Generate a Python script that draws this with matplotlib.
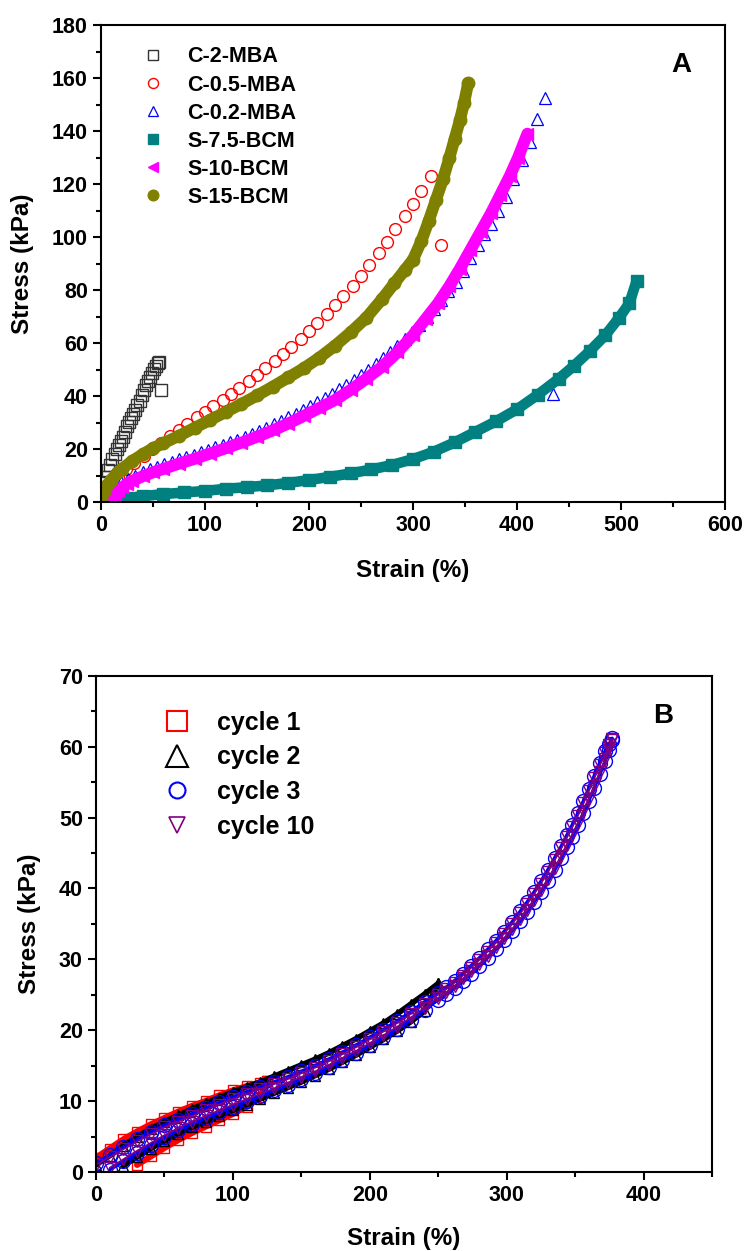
import matplotlib
matplotlib.use("Agg")
import matplotlib.pyplot as plt
from matplotlib.lines import Line2D
from matplotlib.ticker import MultipleLocator
import numpy as np

plt.rcParams["font.family"] = ["Liberation Sans", "DejaVu Sans"]
plt.rcParams["font.weight"] = "bold"
plt.rcParams["axes.linewidth"] = 1.5

nan = np.nan

# ---------------- panel A: strain (%) / stress (kPa) ----------------
c2_mba_x = [3, 5, 7, 9, 11, 13, 15, 17, 19, 21, 23, 25, 27, 29, 31, 33, 35, 37, 39,
            41, 43, 45, 47, 49, 51, 53, 55, 56, 58]
c2_mba_y = [7.0, 9.6, 12.0, 13.8, 16.2, 18.3, 19.9, 21.5, 23.0, 24.4, 26.5, 28.6, 30.3,
            31.8, 33.3, 34.9, 36.6, 38.2, 40.2, 42.4, 44.1, 45.7, 47.2, 48.7, 50.1,
            51.3, 52.4, 53.0, 42.3]

c05_mba_x = [1, 8, 16, 24, 32, 41, 49, 58, 66, 75, 83, 92, 100, 108, 117, 125, 133, 142,
             150, 158, 167, 175, 183, 192, 200, 208, 217, 225, 233, 242, 250, 258, 267,
             275, 283, 292, 300, 308, 317, 327]
c05_mba_y = [1.5, 6.0, 9.5, 12.3, 14.8, 17.3, 20.0, 22.3, 24.8, 27.2, 29.6, 31.9, 34.0,
             36.2, 38.5, 40.7, 43.1, 45.6, 47.9, 50.5, 53.1, 55.8, 58.6, 61.5, 64.5, 67.6,
             70.9, 74.2, 77.7, 81.5, 85.4, 89.5, 93.8, 98.3, 103.0, 107.8, 112.5, 117.5,
             123.0, 97.0]

c02_mba_x = [5, 12, 19, 26, 33, 40, 47, 54, 61, 68, 75, 82, 89, 96, 103, 110, 117, 124,
             131, 138, 145, 152, 159, 166, 173, 180, 187, 194, 201, 208, 215, 222, 229,
             236, 243, 250, 257, 264, 271, 278, 285, 292, 299, 306, 313, 320, 327, 334,
             341, 348, 355, 362, 368, 375, 382, 389, 396, 405, 412, 419, 427, 435]
c02_mba_y = [3.0, 6.0, 7.5, 8.8, 10.0, 11.2, 12.3, 13.3, 14.3, 15.2, 16.1, 17.0, 17.9,
             18.8, 19.7, 20.6, 21.5, 22.5, 23.5, 24.6, 25.7, 26.9, 28.1, 29.3, 30.6, 31.9,
             33.3, 34.7, 36.2, 37.7, 39.3, 40.9, 42.6, 44.3, 46.1, 48.0, 50.0, 52.1, 54.3,
             56.6, 59.0, 61.5, 64.1, 66.9, 69.8, 72.9, 76.1, 79.5, 83.1, 87.0, 92.0, 97.0,
             101.0, 105.0, 110.0, 115.0, 122.0, 129.0, 136.0, 144.5, 152.5, 40.7]

s75_bcm_x = [10, 15, 25, 40, 60, 80, 100, 120, 140, 160, 180, 200, 220, 240, 260, 280,
             300, 320, 340, 360, 380, 400, 420, 440, 455, 470, 485, 498, 508, 515]
s75_bcm_y = [0.0, 0.8, 1.5, 2.2, 3.0, 3.6, 4.2, 5.0, 5.6, 6.3, 7.2, 8.3, 9.5, 10.8, 12.3,
             14.0, 16.2, 19.0, 22.5, 26.5, 30.5, 35.0, 40.5, 46.5, 51.5, 57.0, 63.0, 69.5,
             75.0, 83.5]

s10_bcm_x = [10, 13, 16, 20, 25, 30, 40, 50, 60, 75, 90, 105, 120, 135, 150, 165, 180,
             195, 210, 225, 240, 255, 270, 285, 300, 312, 324, 335, 345, 355, 365, 375,
             384, 393, 401, 410]
s10_bcm_y = [0.0, 2.5, 4.0, 5.5, 6.8, 8.0, 9.7, 11.2, 12.5, 14.5, 16.3, 18.3, 20.3, 22.4,
             24.6, 27.0, 29.6, 32.5, 35.5, 38.5, 42.3, 46.5, 51.0, 56.5, 63.0, 69.0, 75.0,
             81.5, 88.0, 95.0, 102.0, 109.0, 116.0, 123.0, 130.0, 139.0]

s15_bcm_x = [0, 3, 6, 10, 15, 20, 30, 40, 50, 60, 75, 90, 105, 120, 135, 150, 165, 180,
             195, 210, 225, 240, 255, 270, 282, 292, 300, 308, 315, 322, 329, 335, 340,
             345, 349, 353]
s15_bcm_y = [1.0, 4.0, 6.5, 8.5, 10.8, 12.5, 15.5, 18.0, 20.3, 22.2, 25.0, 28.0, 31.0,
             34.0, 37.0, 40.2, 43.5, 47.0, 50.5, 54.5, 59.0, 64.0, 69.5, 76.5, 82.5, 87.5,
             91.5, 98.5, 106.0, 114.0, 122.0, 130.0, 137.0, 144.0, 150.5, 158.0]

# ---------------- panel B: cyclic loading / unloading ----------------
cyc1_x = [0, 10, 20, 30, 40, 50, 60, 70, 80, 90, 100, 110, 120, 125]
cyc1_load = [2.0, 3.3, 4.6, 5.7, 6.7, 7.6, 8.5, 9.3, 10.0, 10.8, 11.5, 12.1, 12.6, 12.9]
cyc1_unload = [nan, nan, nan, 1.0, 2.2, 3.4, 4.5, 5.5, 6.4, 7.3, 8.2, 9.2, 10.6, 12.9]

cyc2_x = [0, 10, 20, 30, 40, 50, 60, 70, 80, 90, 100, 110, 120, 130, 140, 150, 160, 170,
          180, 190, 200, 210, 220, 230, 240, 250]
cyc2_load = [1.0, 2.3, 3.7, 5.0, 6.1, 7.1, 8.0, 8.9, 9.7, 10.5, 11.3, 12.0, 12.7, 13.5,
             14.3, 15.1, 15.9, 16.8, 17.8, 18.8, 19.9, 21.0, 22.3, 23.7, 25.1, 26.6]
cyc2_unload = [nan, nan, 0.9, 2.1, 3.3, 4.4, 5.4, 6.3, 7.1, 7.9, 8.7, 9.5, 10.3, 11.1,
               11.9, 12.7, 13.6, 14.5, 15.5, 16.5, 17.6, 18.7, 19.9, 21.2, 22.7, 26.6]

cyc3_x = [0, 10, 20, 30, 40, 50, 60, 70, 80, 90, 100, 110, 120, 130, 140, 150, 160, 170,
          180, 190, 200, 210, 220, 230, 240, 250, 256, 262, 268, 274, 280, 286, 292, 298,
          304, 310, 315, 320, 325, 330, 335, 340, 344, 348, 352, 356, 360, 364, 368, 372,
          375, 377]
cyc3_load = [1.3, 2.4, 3.5, 4.6, 5.6, 6.6, 7.4, 8.2, 9.0, 9.8, 10.6, 11.3, 12.0, 12.7,
             13.4, 14.2, 15.0, 15.9, 16.9, 17.9, 19.0, 20.1, 21.3, 22.6, 24.0, 25.3, 26.1,
             27.0, 28.0, 29.1, 30.2, 31.4, 32.6, 33.9, 35.3, 36.8, 38.1, 39.5, 41.0, 42.6,
             44.3, 46.0, 47.5, 49.0, 50.6, 52.3, 54.1, 55.9, 57.7, 59.4, 60.4, 61.2]
cyc3_unload = [nan, 0.3, 1.5, 2.7, 3.8, 4.9, 5.9, 6.8, 7.6, 8.4, 9.2, 10.0, 10.7, 11.5,
               12.3, 13.1, 13.9, 14.8, 15.8, 16.8, 17.9, 19.0, 20.2, 21.5, 22.9, 24.3,
               25.1, 26.0, 27.0, 28.0, 29.1, 30.2, 31.4, 32.7, 34.0, 35.4, 36.7, 38.1,
               39.5, 41.0, 42.6, 44.3, 45.8, 47.3, 48.9, 50.6, 52.4, 54.2, 56.1, 58.0,
               59.6, 61.0]
cyc10_load = [1.0, 2.1, 3.2, 4.3, 5.3, 6.3, 7.1, 7.9, 8.7, 9.5, 10.3, 11.0, 11.7, 12.4,
              13.1, 13.9, 14.7, 15.6, 16.6, 17.6, 18.7, 19.8, 21.0, 22.3, 23.7, 25.0,
              25.8, 26.7, 27.7, 28.8, 29.9, 31.1, 32.3, 33.6, 35.0, 36.5, 37.8, 39.2,
              40.7, 42.3, 44.0, 45.7, 47.2, 48.7, 50.3, 52.0, 53.8, 55.6, 57.4, 59.1,
              60.2, 61.1]
cyc10_unload = [nan, 0.6, 1.8, 3.0, 4.1, 5.2, 6.2, 7.1, 7.9, 8.7, 9.5, 10.3, 11.0, 11.8,
                12.6, 13.4, 14.2, 15.1, 16.1, 17.1, 18.2, 19.3, 20.5, 21.8, 23.2, 24.6,
                25.4, 26.3, 27.3, 28.3, 29.4, 30.5, 31.7, 33.0, 34.3, 35.7, 37.0, 38.4,
                39.8, 41.3, 42.9, 44.6, 46.1, 47.6, 49.2, 50.9, 52.7, 54.5, 56.4, 58.3,
                59.8, 61.0]


def style_axes(ax, xmax, xmaj, xmin, ymax, ymaj, ymin):
    ax.set_xlim(0, xmax)
    ax.set_ylim(0, ymax)
    ax.xaxis.set_major_locator(MultipleLocator(xmaj))
    ax.xaxis.set_minor_locator(MultipleLocator(xmin))
    ax.yaxis.set_major_locator(MultipleLocator(ymaj))
    ax.yaxis.set_minor_locator(MultipleLocator(ymin))
    ax.tick_params(which="major", direction="out", length=6, width=1.5,
                   labelsize=15.5, top=False, right=False)
    ax.tick_params(which="minor", direction="out", length=3.5, width=1.5,
                   top=False, right=False)
    for lab in ax.get_xticklabels() + ax.get_yticklabels():
        lab.set_fontweight("bold")
    ax.set_xlabel("Strain (%)", fontsize=17.5, fontweight="bold")
    ax.set_ylabel("Stress (kPa)", fontsize=17.5, fontweight="bold")


def filled_band(ax, x, y, color, marker, ms, label):
    ax.plot(x, y, "-", color=color, lw=ms * 0.95, solid_capstyle="round")
    ax.plot(x, y, ls="none", marker=marker, ms=ms, mfc=color, mec=color,
            label=label)


fig = plt.figure(figsize=(7.45, 12.51), dpi=100)

# ---- panel A ----
axA = fig.add_axes([0.1356, 0.5987, 0.8376, 0.3813])
axA.plot(c2_mba_x, c2_mba_y, ls="none", marker="s", ms=8.5, mfc="none",
         mec="#333333", mew=1.0, label="C-2-MBA")
axA.plot(c05_mba_x, c05_mba_y, ls="none", marker="o", ms=8.5, mfc="none",
         mec="#FF0000", mew=1.0, label="C-0.5-MBA")
axA.plot(c02_mba_x, c02_mba_y, ls="none", marker="^", ms=8.5, mfc="none",
         mec="#0000FF", mew=0.9, label="C-0.2-MBA")
filled_band(axA, s75_bcm_x, s75_bcm_y, "#008080", "s", 8.0, "S-7.5-BCM")
filled_band(axA, s10_bcm_x, s10_bcm_y, "#FF00FF", "<", 9.0, "S-10-BCM")
filled_band(axA, s15_bcm_x, s15_bcm_y, "#808000", "o", 9.0, "S-15-BCM")
style_axes(axA, 600, 100, 50, 180, 20, 10)
axA.xaxis.set_label_coords(0.5, -0.12)
axA.yaxis.set_label_coords(-0.108, 0.5)
axA.text(558, 165, "A", fontsize=20, fontweight="bold", ha="center", va="center")
axA.legend(loc="upper left", bbox_to_anchor=(0.066, 0.955), frameon=False,
           handlelength=1.0, handletextpad=1.1, markerscale=0.85,
           labelspacing=0.33, borderpad=0, borderaxespad=0,
           prop={"weight": "bold", "size": 15.5})

# ---- panel B ----
axB = fig.add_axes([0.1289, 0.0632, 0.8268, 0.3965])
cycles = [
    (cyc1_x, cyc1_load, cyc1_unload, "#FF0000", "s", 7.0, 4.5),
    (cyc2_x, cyc2_load, cyc2_unload, "#000000", "^", 7.0, 4.0),
    (cyc3_x, cyc3_load, cyc3_unload, "#0000FF", "o", 10.0, 2.5),
    (cyc3_x, cyc10_load, cyc10_unload, "#800080", "v", 8.0, 1.2),
]
for x, yl, yu, col, mk, ms, lw in cycles:
    for y in (yl, yu):
        axB.plot(x, y, "-", color=col, lw=lw, solid_capstyle="round")
        axB.plot(x, y, ls="none", marker=mk, ms=ms, mfc="none", mec=col, mew=1.0)
style_axes(axB, 450, 100, 50, 70, 10, 5)
axB.xaxis.set_label_coords(0.5, -0.112)
axB.yaxis.set_label_coords(-0.09, 0.5)
axB.text(414.6, 64.3, "B", fontsize=20, fontweight="bold", ha="center", va="center")
handles_B = [
    Line2D([], [], ls="none", marker="s", ms=15, mfc="none", mec="#FF0000", mew=1.5),
    Line2D([], [], ls="none", marker="^", ms=16, mfc="none", mec="#000000", mew=1.5),
    Line2D([], [], ls="none", marker="o", ms=11.5, mfc="none", mec="#0000FF", mew=1.5),
    Line2D([], [], ls="none", marker="v", ms=11, mfc="none", mec="#800080", mew=1.2),
]
axB.legend(handles_B, ["cycle 1", "cycle 2", "cycle 3", "cycle 10"],
           loc="upper left", bbox_to_anchor=(0.111, 0.93), frameon=False,
           handlelength=1.0, handletextpad=1.1, labelspacing=0.43,
           borderpad=0, borderaxespad=0, prop={"weight": "bold", "size": 18})

fig.savefig("out.png", dpi=100)
